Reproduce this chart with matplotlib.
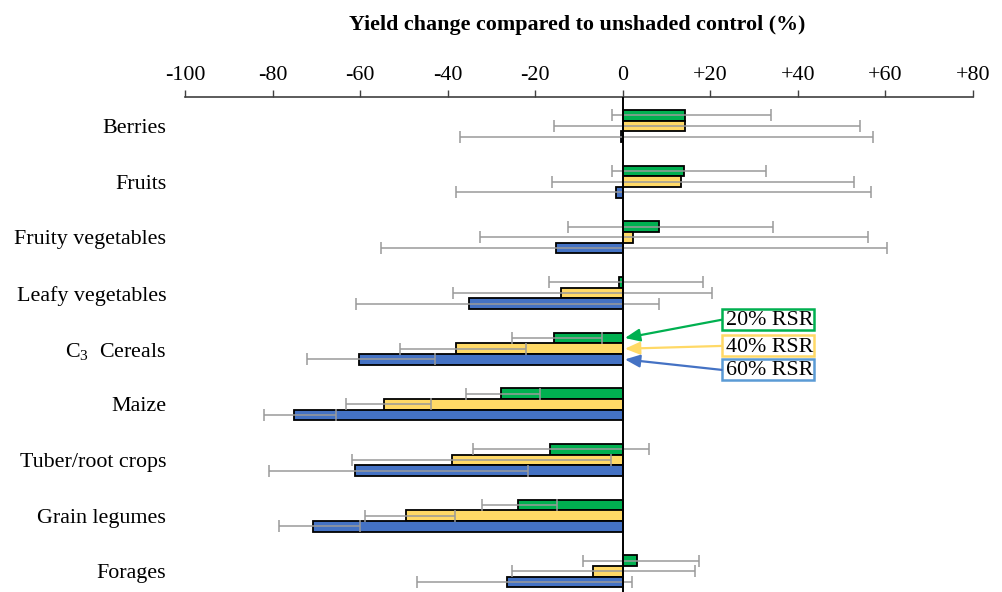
import matplotlib.pyplot as plt
from matplotlib.patches import Rectangle
import numpy as np

plt.rcParams['font.family'] = ['Liberation Serif', 'DejaVu Serif']
plt.rcParams['mathtext.fontset'] = 'custom'
plt.rcParams['mathtext.rm'] = 'Liberation Serif'
plt.rcParams['mathtext.it'] = 'Liberation Serif:italic'

crops = ['Berries', 'Fruits', 'Fruity vegetables', 'Leafy vegetables',
         r'C$_3$  Cereals', 'Maize', 'Tuber/root crops', 'Grain legumes', 'Forages']

# mean yield change (%) for each shading level
rsr20 = [14.3, 14.0, 8.3, -0.8, -15.8, -27.9, -16.5, -24.0, 3.3]
rsr40 = [14.2, 13.4, 2.4, -14.2, -38.0, -54.6, -39.1, -49.5, -6.7]
rsr60 = [-0.5, -1.5, -15.3, -35.0, -60.2, -75.0, -61.2, -70.7, -26.5]

# confidence interval bounds
rsr20_lo = [-2.5, -2.4, -12.6, -16.9, -25.4, -35.9, -34.3, -32.1, -9.1]
rsr20_hi = [33.9, 32.8, 34.3, 18.3, -4.7, -18.8, 6.1, -15.0, 17.4]
rsr40_lo = [-15.7, -16.1, -32.6, -38.7, -50.8, -63.3, -61.9, -58.8, -25.4]
rsr40_hi = [54.3, 52.8, 56.1, 20.5, -22.0, -43.9, -2.6, -38.3, 16.5]
rsr60_lo = [-37.1, -38.1, -55.3, -61.0, -72.2, -81.9, -80.8, -78.5, -47.0]
rsr60_hi = [57.2, 56.7, 60.4, 8.3, -42.8, -65.5, -21.6, -60.0, 2.1]

ticks = [-100, -80, -60, -40, -20, 0, 20, 40, 60, 80]
tick_labels = ['-100', '-80', '-60', '-40', '-20', '0', '+20', '+40', '+60', '+80']

series = [
    ('20% RSR', rsr20, rsr20_lo, rsr20_hi, '#00B050', '#00B050'),
    ('40% RSR', rsr40, rsr40_lo, rsr40_hi, '#FFD966', '#FFD966'),
    ('60% RSR', rsr60, rsr60_lo, rsr60_hi, '#4472C4', '#5B9BD5'),
]

fs = 15.8

fig = plt.figure(figsize=(10.03, 5.92), dpi=100)
ax = fig.add_axes([0.1844, 0.0, 0.7856, 0.836])

y = np.arange(len(crops))
h = 0.192
offsets = [-h, 0, h]

for (name, vals, lo, hi, color, _), off in zip(series, offsets):
    vals = np.array(vals)
    ax.barh(y + off, vals, height=h, color=color, edgecolor='black',
            linewidth=1.3, zorder=2)
    err = [vals - np.array(lo), np.array(hi) - vals]
    ax.errorbar(vals, y + off, xerr=err, fmt='none', ecolor='#9a9a9a',
                elinewidth=1.1, capsize=4, capthick=1.1, zorder=3)

ax.axvline(0, color='black', linewidth=1.4, zorder=4)

ax.set_xlim(-100, 80)
ax.set_ylim(8.37, -0.52)
ax.xaxis.tick_top()
ax.set_xticks(ticks)
ax.set_xticklabels(tick_labels, fontsize=fs)
ax.tick_params(axis='x', direction='out', length=5, width=1, color='#404040', pad=3.8)
ax.set_yticks(y)
ax.set_yticklabels(crops, fontsize=fs)
ax.tick_params(axis='y', length=0, pad=13.5)

for side in ['left', 'right', 'bottom']:
    ax.spines[side].set_visible(False)
ax.spines['top'].set_color('#404040')
ax.spines['top'].set_linewidth(1.2)

fig.text(0.5755, 0.957, 'Yield change compared to unshaded control (%)',
         ha='center', va='center', fontsize=fs, fontweight='bold')

# labelled arrows pointing at the C3 cereal bars
ci = 4
box_y = [3.48, 3.95, 4.38]
box_x0, box_x1, box_h = 22.6, 43.8, 0.375
for (name, vals, lo, hi, color, edge), off, by in zip(series, offsets, box_y):
    ax.add_patch(Rectangle((box_x0, by - box_h / 2), box_x1 - box_x0, box_h,
                           facecolor='white', edgecolor=edge, linewidth=1.8,
                           zorder=5, clip_on=False))
    ax.text(box_x0 + 0.9, by + 0.02, name, fontsize=fs, ha='left', va='center',
            zorder=6)
    ax.annotate('', xy=(0.5, ci + off), xytext=(box_x0, by),
                arrowprops=dict(arrowstyle='-|>,head_length=0.9,head_width=0.38',
                                color=color, lw=1.6, shrinkA=0, shrinkB=0),
                zorder=5)

fig.savefig('out.png', dpi=100)
